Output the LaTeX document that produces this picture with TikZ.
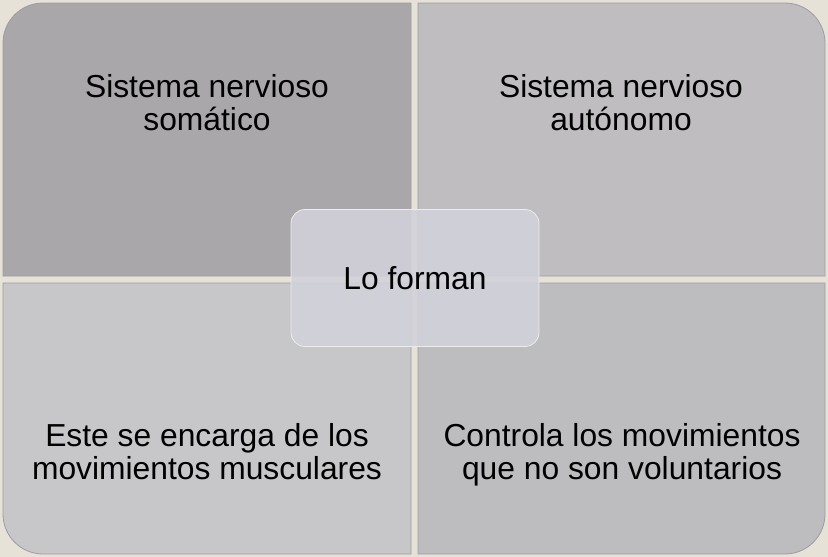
\documentclass[tikz,border=0pt]{standalone}
\usepackage{fontspec}
\setmainfont{Liberation Sans}
\definecolor{bgc}{HTML}{E6E2D8}
\definecolor{qtl}{HTML}{A9A7AA}
\definecolor{qtr}{HTML}{BFBDC0}
\definecolor{qbl}{HTML}{C7C6C9}
\definecolor{qbr}{HTML}{BDBCBF}
\definecolor{cen}{HTML}{D2D2DB}
\definecolor{edge}{HTML}{9E9CA0}
\tikzset{
  quad/.style={draw=edge, line width=0.8pt},
  qtext/.style={align=center, font=\fontsize{31.8}{32.5}\selectfont, text=black, inner sep=0pt, anchor=base},
  centre/.style={draw=white!85!gray, fill=cen, fill opacity=0.88, text opacity=1, rounded corners=14pt, minimum width=248pt, minimum height=137pt, font=\fontsize{31.8}{33}\selectfont, line width=0.8pt}
}
\begin{document}
\begin{tikzpicture}[x=1pt,y=-1pt]
\useasboundingbox (0,0) rectangle (828,557);
\fill[bgc] (0,0) rectangle (828,557);
% quadrants
\filldraw[quad, fill=qtl] (3,276) [rounded corners=40pt] -- (3,3) [sharp corners] -- (411,3) -- (411,276) -- cycle;
\filldraw[quad, fill=qtr] (418,3) [rounded corners=40pt] -- (825,3) [sharp corners] -- (825,276) -- (418,276) -- cycle;
\filldraw[quad, fill=qbl] (411,283) -- (411,554) [rounded corners=40pt] -- (3,554) [sharp corners] -- (3,283) -- cycle;
\filldraw[quad, fill=qbr] (418,283) -- (825,283) [rounded corners=40pt] -- (825,554) [sharp corners] -- (418,554) -- cycle;
% texts (anchor at baseline of the last line)
\node[qtext] (tl) at (207,130) {Sistema nervioso\\somático};
\node[qtext] (tr) at (621,130) {Sistema nervioso\\autónomo};
\node[qtext] (bl) at (207,479) {Este se encarga de los\\movimientos musculares};
\node[qtext] (br) at (622,479) {Controla los movimientos\\que no son voluntarios};
% centre
\node[centre] (c) at (415,278) {Lo forman};
\end{tikzpicture}
\end{document}
